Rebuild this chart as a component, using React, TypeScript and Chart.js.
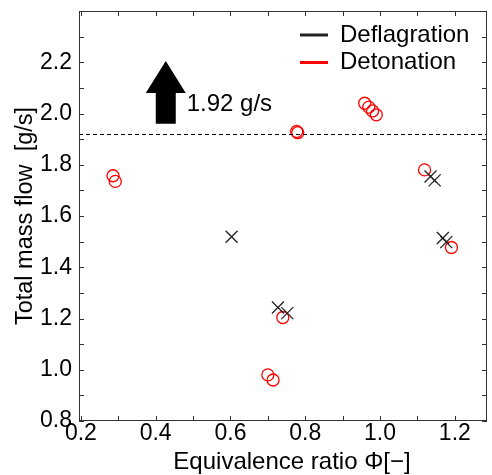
import React, { useEffect, useRef } from "react";
import { Chart, registerables } from "chart.js";

Chart.register(...registerables);

// ---- data ----
const deflagrationPhi = [0.603, 0.727, 0.752, 1.135, 1.146, 1.168, 1.177];
const deflagrationFlow = [1.519, 1.243, 1.221, 1.754, 1.739, 1.514, 1.498];

const detonationPhi = [0.286, 0.292, 0.7, 0.714, 0.74, 0.777, 0.78, 0.959, 0.97, 0.98, 0.99, 1.119, 1.191];
const detonationFlow = [1.757, 1.735, 0.98, 0.96, 1.204, 1.93, 1.925, 2.04, 2.025, 2.01, 1.995, 1.78, 1.477];

const xTickLabels = ["0.2", "0.4", "0.6", "0.8", "1.0", "1.2"];
const yTickLabels = ["0.8", "1.0", "1.2", "1.4", "1.6", "1.8", "2.0", "2.2"];
const xMinorTicks = [0.2, 0.3, 0.4, 0.5, 0.6, 0.7, 0.8, 0.9, 1.0, 1.1, 1.2];
const yMinorTicks = [0.8, 0.9, 1.0, 1.1, 1.2, 1.3, 1.4, 1.5, 1.6, 1.7, 1.8, 1.9, 2.0, 2.1, 2.2, 2.3];

const xMin = 0.195;
const xMax = 1.286;
const yMin = 0.8;
const yMax = 2.4;

const thresholdFlow = 1.92;
const thresholdLabel = "1.92 g/s";
const arrowPhi = 0.427;
const arrowBaseFlow = 1.96;
const arrowTipFlow = 2.205;
const labelPhi = 0.483;
const labelFlow = 2.035;

const xTitle = "Equivalence ratio \u03A6[\u2212]";
const yTitle = "Total mass flow  [g/s]";

const FONT = "'Liberation Sans', Arial, sans-serif";
const frameColor = "#333";

const overlayPlugin = {
  id: "overlay",
  afterDatasetsDraw(chart: any) {
    const { ctx, chartArea, scales } = chart;
    const xs = scales.x;
    const ys = scales.y;
    const { left, right, top, bottom } = chartArea;
    ctx.save();

    // dashed threshold
    const yT = Math.round(ys.getPixelForValue(thresholdFlow)) + 0.5;
    ctx.strokeStyle = "#000";
    ctx.lineWidth = 1;
    ctx.setLineDash([4, 3]);
    ctx.beginPath();
    ctx.moveTo(left, yT);
    ctx.lineTo(right, yT);
    ctx.stroke();
    ctx.setLineDash([]);

    // frame
    ctx.strokeStyle = frameColor;
    ctx.lineWidth = 1;
    ctx.strokeRect(left + 0.5, top + 0.5, right - left - 1, bottom - top - 1);

    // inward ticks
    const tl = 5;
    ctx.beginPath();
    for (const v of xMinorTicks) {
      const px = Math.round(xs.getPixelForValue(v)) + 0.5;
      ctx.moveTo(px, bottom);
      ctx.lineTo(px, bottom - tl);
      ctx.moveTo(px, top);
      ctx.lineTo(px, top + tl);
    }
    for (const v of yMinorTicks) {
      const py = Math.round(ys.getPixelForValue(v)) + 0.5;
      ctx.moveTo(left, py);
      ctx.lineTo(left + tl, py);
      ctx.moveTo(right, py);
      ctx.lineTo(right - tl, py);
    }
    ctx.stroke();

    // arrow
    const ax = xs.getPixelForValue(arrowPhi);
    const aBase = ys.getPixelForValue(arrowBaseFlow);
    const aTip = ys.getPixelForValue(arrowTipFlow);
    const headH = 32;
    const headW = 20;
    const shaftW = 10;
    ctx.fillStyle = "#000";
    ctx.beginPath();
    ctx.moveTo(ax, aTip);
    ctx.lineTo(ax + headW, aTip + headH);
    ctx.lineTo(ax + shaftW, aTip + headH);
    ctx.lineTo(ax + shaftW, aBase);
    ctx.lineTo(ax - shaftW, aBase);
    ctx.lineTo(ax - shaftW, aTip + headH);
    ctx.lineTo(ax - headW, aTip + headH);
    ctx.closePath();
    ctx.fill();

    ctx.font = `24px ${FONT}`;
    ctx.textAlign = "left";
    ctx.textBaseline = "middle";
    ctx.fillText(thresholdLabel, xs.getPixelForValue(labelPhi), ys.getPixelForValue(labelFlow));

    // legend
    const lx1 = right - 187;
    const lx2 = right - 159;
    const tx = right - 147;
    chart.data.datasets.forEach((ds: any, i: number) => {
      const ly = top + 24 + i * 27.5;
      ctx.strokeStyle = ds.borderColor;
      ctx.lineWidth = 3;
      ctx.beginPath();
      ctx.moveTo(lx1, ly);
      ctx.lineTo(lx2, ly);
      ctx.stroke();
      ctx.fillStyle = "#000";
      ctx.font = `24px ${FONT}`;
      ctx.textAlign = "left";
      ctx.textBaseline = "middle";
      ctx.fillText(ds.label, tx, ly);
    });

    // x-axis title
    ctx.fillStyle = "#000";
    ctx.font = `24px ${FONT}`;
    ctx.textAlign = "center";
    ctx.textBaseline = "alphabetic";
    ctx.fillText(xTitle, left + 213, bottom + 48);

    ctx.restore();
  },
};

export default function App() {
  const ref = useRef<HTMLCanvasElement | null>(null);
  useEffect(() => {
    if (!ref.current) return;
    const chart = new Chart(ref.current, {
      type: "scatter",
      data: {
        datasets: [
          {
            label: "Deflagration",
            data: deflagrationPhi.map((x, i) => ({ x, y: deflagrationFlow[i] })),
            pointStyle: "crossRot",
            pointRadius: 8.5,
            pointHoverRadius: 8.5,
            borderColor: "#222",
            backgroundColor: "#222",
            pointBorderWidth: 1.3,
          },
          {
            label: "Detonation",
            data: detonationPhi.map((x, i) => ({ x, y: detonationFlow[i] })),
            pointStyle: "circle",
            pointRadius: 6,
            pointHoverRadius: 6,
            borderColor: "#ff0000",
            backgroundColor: "rgba(0,0,0,0)",
            pointBorderWidth: 1.3,
          },
        ],
      },
      options: {
        animation: false,
        responsive: false,
        events: [],
        layout: { autoPadding: false, padding: { left: 0, right: 5, top: 11, bottom: 0 } },
        plugins: { legend: { display: false }, tooltip: { enabled: false } },
        scales: {
          x: {
            type: "linear",
            min: xMin,
            max: xMax,
            afterBuildTicks: (s: any) => {
              s.ticks = xTickLabels.map((l) => ({ value: parseFloat(l) }));
            },
            afterFit: (s: any) => {
              s.height = 54;
              s.paddingLeft = 0;
              s.paddingRight = 0;
            },
            grid: { display: false, drawTicks: false },
            border: { display: false },
            ticks: {
              autoSkip: false,
              maxRotation: 0,
              padding: -1,
              color: "#000",
              font: { size: 23, family: FONT },
              callback: (v: any) => Number(v).toFixed(1),
            },
            title: { display: false },
          },
          y: {
            type: "linear",
            min: yMin,
            max: yMax,
            afterBuildTicks: (s: any) => {
              s.ticks = yTickLabels.map((l) => ({ value: parseFloat(l) }));
            },
            afterFit: (s: any) => {
              s.width = 79;
              s.paddingTop = 0;
              s.paddingBottom = 0;
            },
            grid: { display: false, drawTicks: false },
            border: { display: false },
            ticks: {
              autoSkip: false,
              padding: 7,
              color: "#000",
              font: { size: 23, family: FONT },
              callback: (v: any) => Number(v).toFixed(1),
            },
            title: {
              display: true,
              text: yTitle,
              color: "#000",
              font: { size: 23.5, family: FONT },
              padding: { top: 11, bottom: 0 },
            },
          },
        },
      },
      plugins: [overlayPlugin],
    });
    return () => chart.destroy();
  }, []);
  return (
    <div style={{ position: "absolute", left: 0, top: 0, width: 492, height: 475, background: "#fff" }}>
      <canvas ref={ref} width={492} height={475} style={{ width: 492, height: 475, display: "block" }} />
    </div>
  );
}
